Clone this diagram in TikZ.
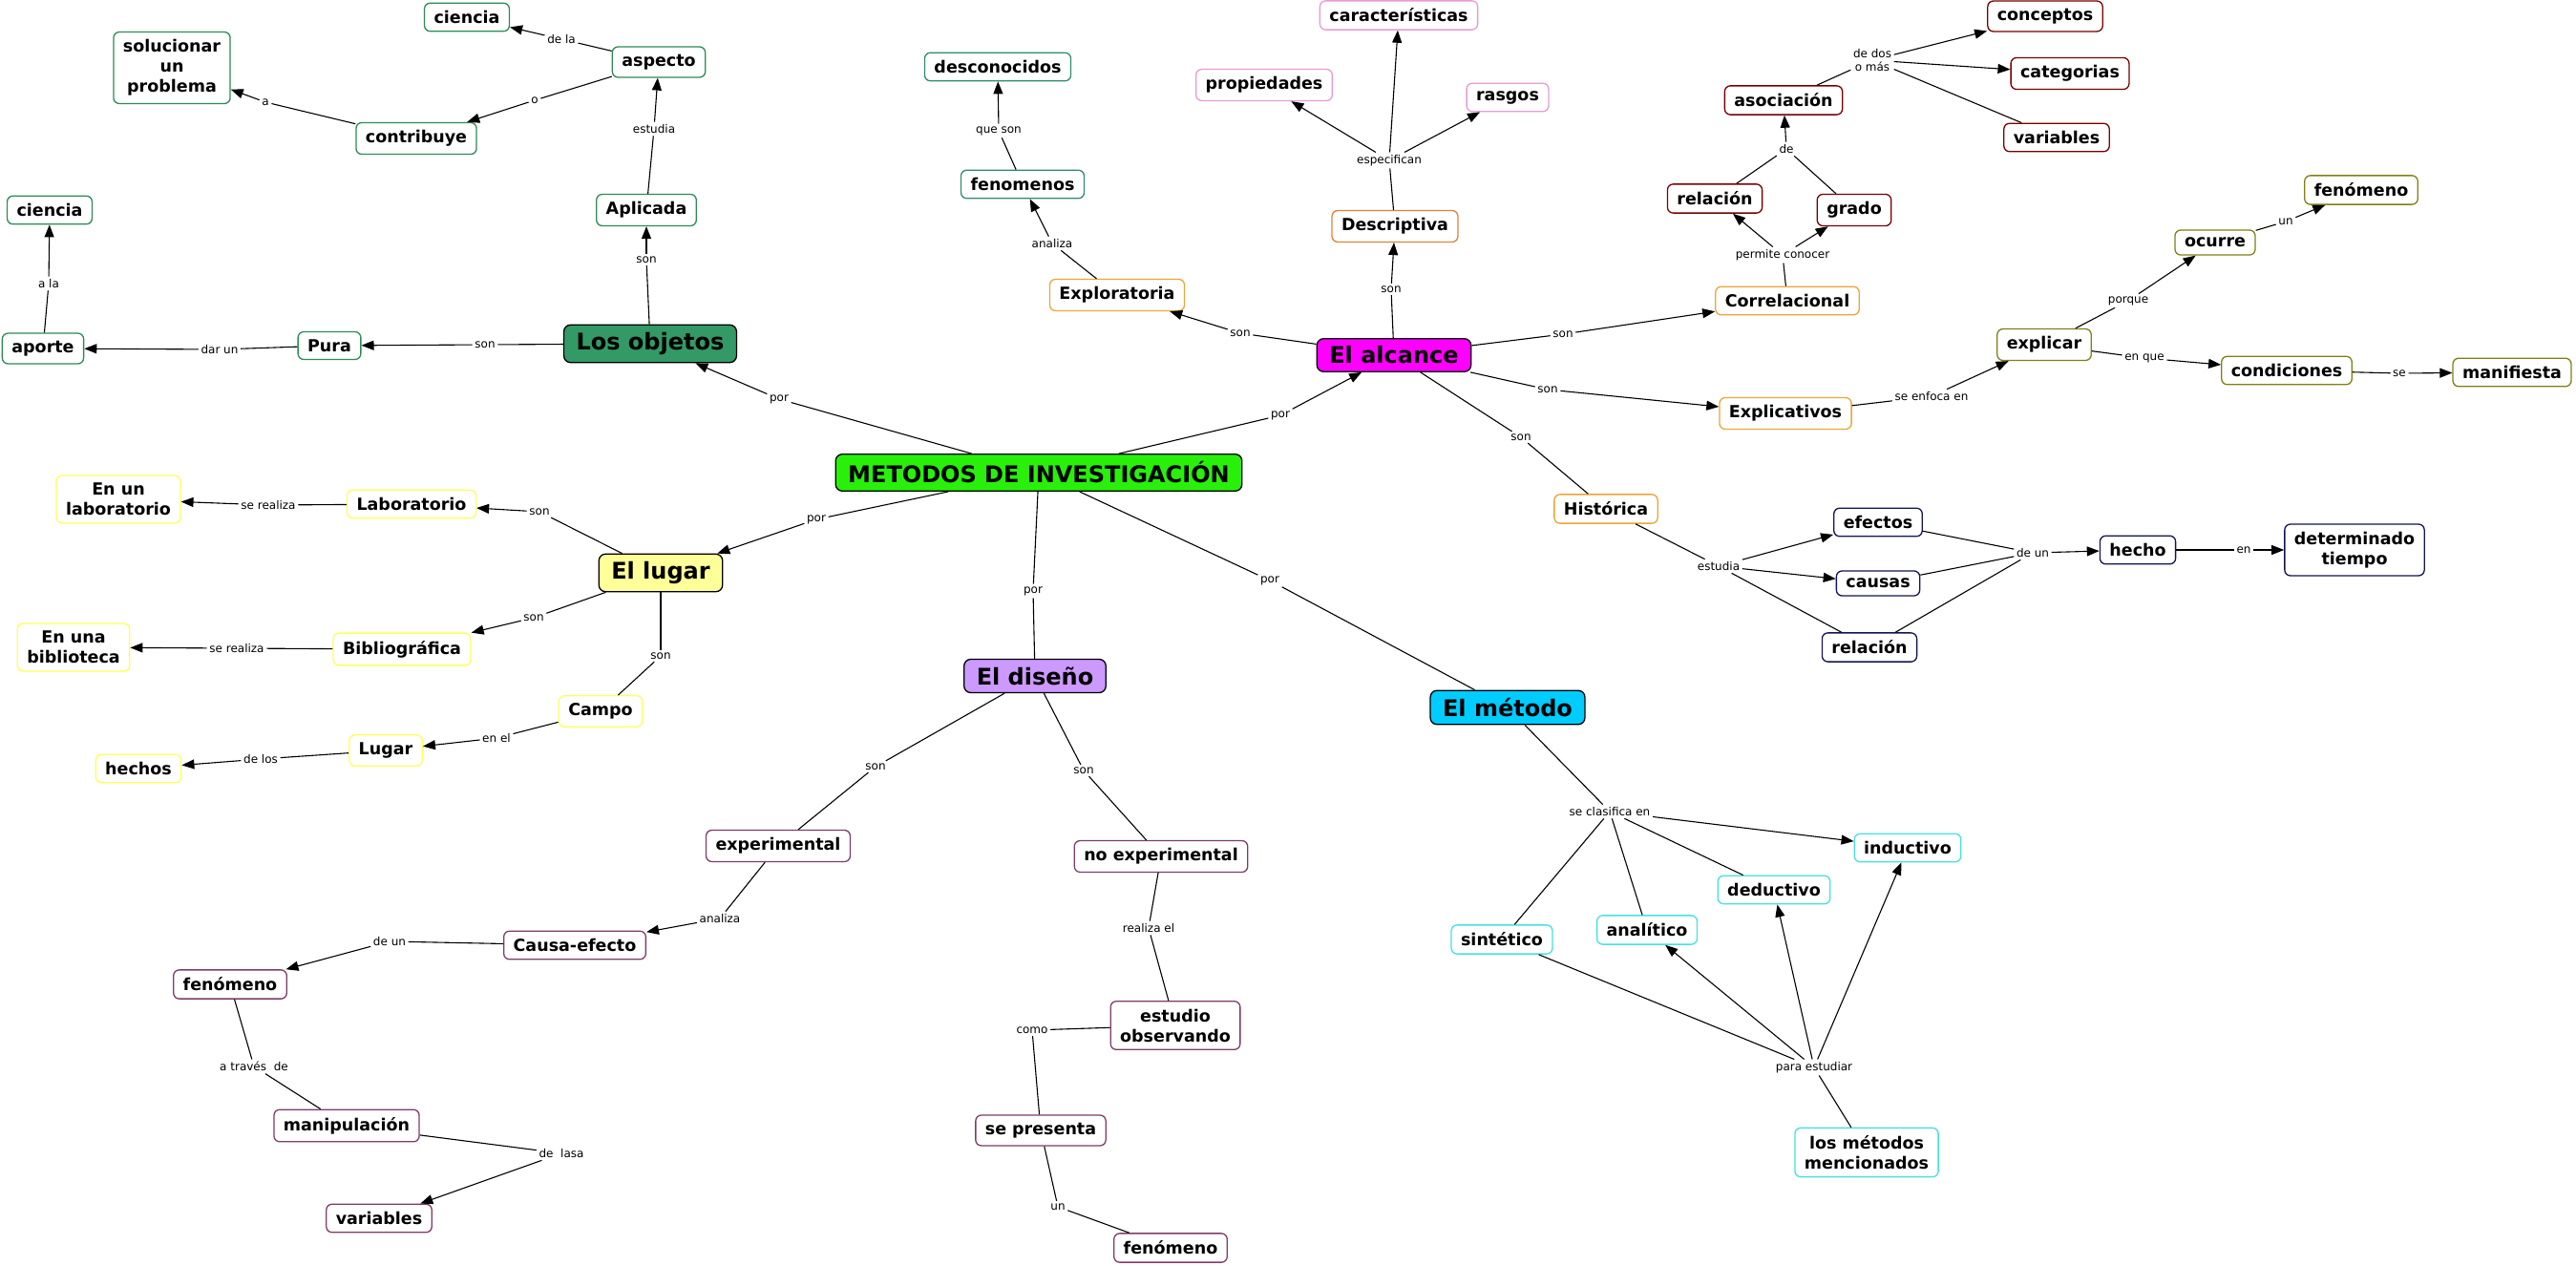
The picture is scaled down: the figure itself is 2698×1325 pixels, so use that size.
\documentclass[tikz,border=0pt]{standalone}
\usepackage{fontspec}
\setmainfont{DejaVu Sans}
\usetikzlibrary{arrows.meta}
\definecolor{cObj}{RGB}{46,139,87}
\definecolor{cOra}{RGB}{236,165,55}
\definecolor{cOra2}{RGB}{228,128,52}
\definecolor{cFen}{RGB}{46,139,110}
\definecolor{cPink}{RGB}{232,155,212}
\definecolor{cRed}{RGB}{120,0,0}
\definecolor{cOli}{RGB}{128,128,20}
\definecolor{cNavy}{RGB}{20,20,80}
\definecolor{cYel}{RGB}{255,255,90}
\definecolor{cPlum}{RGB}{125,60,105}
\definecolor{cCyan}{RGB}{70,225,225}
\definecolor{fObj}{RGB}{51,153,102}
\definecolor{fMet}{RGB}{40,240,10}
\definecolor{fAlc}{RGB}{255,0,255}
\definecolor{fLug}{RGB}{255,255,153}
\definecolor{fDis}{RGB}{204,153,255}
\definecolor{fMtd}{RGB}{0,204,255}
\newcommand{\mNF}{\fontsize{17.5}{21}\selectfont\bfseries}
\newcommand{\mBF}{\fontsize{24}{28}\selectfont\bfseries}
\newcommand{\mLF}{\fontsize{12}{13.5}\selectfont}
\tikzset{
  nd/.style={draw=#1, rounded corners=6pt, line width=1.3pt, fill=white, font=\mNF, align=center, inner xsep=10pt, inner ysep=8pt},
  bg/.style={draw=black, fill=#1, rounded corners=7pt, line width=1.3pt, font=\mBF, inner xsep=13pt, inner ysep=8pt},
  lb/.style={fill=white, font=\mLF, inner sep=2.5pt, align=center},
  ln/.style={line width=1.1pt},
  ar/.style={line width=1.1pt, -{Triangle[length=13pt,width=10pt]}}
}
\begin{document}
\begin{tikzpicture}[x=1pt,y=-1pt]
\fill[white] (0,0) rectangle (2698,1325);
\path[use as bounding box] (0,0) rectangle (2698,1325);

% ---------- main nodes
\node[bg=fMet] (met) at (1088,495) {METODOS DE INVESTIGACIÓN};
\node[bg=fObj] (obj) at (681,360) {Los objetos};
\node[bg=fAlc] (alc) at (1460,372) {El alcance};
\node[bg=fLug] (lug) at (692,600) {El lugar};
\node[bg=fDis] (dis) at (1084,708) {El diseño};
\node[bg=fMtd] (mtd) at (1579,741) {El método};

% ---------- objetos cluster
\node[nd=cObj] (cien1) at (489,18) {ciencia};
\node[nd=cObj] (sol) at (180,71) {solucionar\\un\\problema};
\node[nd=cObj] (asp) at (690,65) {aspecto};
\node[nd=cObj] (contr) at (436,145) {contribuye};
\node[nd=cObj] (cien2) at (52,220) {ciencia};
\node[nd=cObj] (apl) at (677,220) {Aplicada};
\node[nd=cObj] (aporte) at (45,365) {aporte};
\node[nd=cObj] (pura) at (345,362) {Pura};

% ---------- alcance cluster
\node[nd=cOra] (explo) at (1170,309) {Exploratoria};
\node[nd=cFen] (fen1) at (1071,193) {fenomenos};
\node[nd=cFen] (desc) at (1045,70) {desconocidos};
\node[nd=cPink] (car) at (1465,16) {características};
\node[nd=cPink] (prop) at (1324,89) {propiedades};
\node[nd=cPink] (ras) at (1579,102) {rasgos};
\node[nd=cOra2] (descr) at (1461,237) {Descriptiva};
\node[nd=cOra] (corr) at (1872,315) {Correlacional};
\node[nd=cRed] (rel1) at (1796,208) {relación};
\node[nd=cRed] (grado) at (1942,220) {grado};
\node[nd=cRed] (asoc) at (1868,105) {asociación};
\node[nd=cRed] (conc) at (2142,17) {conceptos};
\node[nd=cRed] (cat) at (2168,77) {categorias};
\node[nd=cRed] (var1) at (2154,144) {variables};
\node[nd=cOra] (explic) at (1870,433) {Explicativos};
\node[nd=cOli] (explicar) at (2141,361) {explicar};
\node[nd=cOli] (ocurre) at (2320,254) {ocurre};
\node[nd=cOli] (fen2) at (2473,199) {fenómeno};
\node[nd=cOli] (cond) at (2395,388) {condiciones};
\node[nd=cOli] (manif) at (2631,390) {manifiesta};
\node[nd=cOra] (hist) at (1682,533) {Histórica};
\node[nd=cNavy] (efe) at (1967,547) {efectos};
\node[nd=cNavy] (cau) at (1967,611) {causas};
\node[nd=cNavy] (rel2) at (1958,678) {relación};
\node[nd=cNavy] (hecho) at (2239,576) {hecho};
\node[nd=cNavy] (tiempo) at (2466,576) {determinado\\tiempo};

% ---------- lugar cluster
\node[nd=cYel] (lab) at (431,528) {Laboratorio};
\node[nd=cYel] (enlab) at (124,523) {En un\\laboratorio};
\node[nd=cYel] (bib) at (421,680) {Bibliográfica};
\node[nd=cYel] (enbib) at (77,678) {En una\\biblioteca};
\node[nd=cYel] (campo) at (629,745) {Campo};
\node[nd=cYel] (lugar2) at (404,786) {Lugar};
\node[nd=cYel] (hechos) at (145,805) {hechos};

% ---------- diseño cluster
\node[nd=cPlum] (exper) at (815,886) {experimental};
\node[nd=cPlum] (noexp) at (1216,897) {no experimental};
\node[nd=cPlum] (causa) at (602,990) {Causa-efecto};
\node[nd=cPlum] (fen3) at (241,1031) {fenómeno};
\node[nd=cPlum] (manip) at (363,1179) {manipulación};
\node[nd=cPlum] (var2) at (397,1276) {variables};
\node[nd=cPlum] (estudio) at (1231,1074) {estudio\\observando};
\node[nd=cPlum] (sepres) at (1090,1184) {se presenta};
\node[nd=cPlum] (fen4) at (1226,1307) {fenómeno};

% ---------- método cluster
\node[nd=cCyan] (ind) at (1998,888) {inductivo};
\node[nd=cCyan] (ded) at (1858,932) {deductivo};
\node[nd=cCyan] (ana) at (1725,974) {analítico};
\node[nd=cCyan] (sin) at (1573,984) {sintético};
\node[nd=cCyan] (losm) at (1955,1207) {los métodos\\mencionados};

% ---------- labels
\node[lb] (lp1) at (816,418) {por};
\node[lb] (lp2) at (1341,435) {por};
\node[lb] (lp3) at (855,544) {por};
\node[lb] (lp4) at (1082,619) {por};
\node[lb] (lp5) at (1330,608) {por};

\node[lb] (lso1) at (508,361) {son};
\node[lb] (ldar) at (230,366) {dar un};
\node[lb] (lala) at (51,297) {a la};
\node[lb] (lso2) at (677,272) {son};
\node[lb] (lest) at (685,135) {estudia};
\node[lb] (ldela) at (588,41) {de la};
\node[lb] (lo) at (560,105) {o};
\node[lb] (la) at (278,107) {a};

\node[lb] (lesp) at (1455,168) {especifican};
\node[lb] (lqs) at (1046,137) {que son};
\node[lb] (lan1) at (1102,255) {analiza};
\node[lb] (lso3) at (1457,303) {son};
\node[lb] (lso4) at (1299,349) {son};
\node[lb] (lso5) at (1637,350) {son};
\node[lb] (lso6) at (1621,408) {son};
\node[lb] (lso7) at (1593,458) {son};
\node[lb] (lperm) at (1867,267) {permite conocer};
\node[lb] (lde) at (1871,156) {de};
\node[lb] (ldos) at (1961,63) {de dos\\ o más};
\node[lb] (lenf) at (2023,415) {se enfoca en};
\node[lb] (lpq) at (2229,315) {porque};
\node[lb] (lun1) at (2394,232) {un};
\node[lb] (lenq) at (2246,375) {en que};
\node[lb] (lse) at (2513,391) {se};
\node[lb] (lest2) at (1800,593) {estudia};
\node[lb] (ldeun1) at (2129,579) {de un};
\node[lb] (len) at (2350,576) {en};

\node[lb] (lsl1) at (565,536) {son};
\node[lb] (lsr1) at (281,529) {se realiza};
\node[lb] (lsl2) at (559,647) {son};
\node[lb] (lsr2) at (248,679) {se realiza};
\node[lb] (lsl3) at (692,687) {son};
\node[lb] (lenel) at (520,773) {en el};
\node[lb] (ldelos) at (273,795) {de los};

\node[lb] (lsd1) at (917,803) {son};
\node[lb] (lsd2) at (1135,807) {son};
\node[lb] (lan2) at (754,962) {analiza};
\node[lb] (ldeun2) at (408,986) {de un};
\node[lb] (latr) at (266,1117) {a través~~de};
\node[lb] (ldelasa) at (588,1208) {de~~lasa};
\node[lb] (lreal) at (1203,972) {realiza el};
\node[lb] (lcomo) at (1081,1079) {como};
\node[lb] (lun2) at (1108,1264) {un};

\node[lb] (lclas) at (1686,850) {se clasifica en};
\node[lb] (lpara) at (1900,1118) {para estudiar};

% ---------- connectors: center
\draw[ln] (met) -- (lp1); \draw[ar] (lp1) -- (obj);
\draw[ln] (met) -- (lp2); \draw[ar] (lp2) -- (alc);
\draw[ln] (met) -- (lp3); \draw[ar] (lp3) -- (lug);
\draw[ln] (met) -- (lp4); \draw[ln] (lp4) -- (dis);
\draw[ln] (met) -- (lp5); \draw[ln] (lp5) -- (mtd);

% objetos
\draw[ln] (obj) -- (lso1); \draw[ar] (lso1) -- (pura);
\draw[ln] (pura) -- (ldar); \draw[ar] (ldar) -- (aporte);
\draw[ln] (aporte) -- (lala); \draw[ar] (lala) -- (cien2);
\draw[ln] (obj) -- (lso2); \draw[ar] (lso2) -- (apl);
\draw[ln] (apl) -- (lest); \draw[ar] (lest) -- (asp);
\draw[ln] (asp) -- (ldela); \draw[ar] (ldela) -- (cien1);
\draw[ln] (asp) -- (lo); \draw[ar] (lo) -- (contr);
\draw[ln] (contr) -- (la); \draw[ar] (la) -- (sol);

% alcance
\draw[ln] (alc) -- (lso4); \draw[ar] (lso4) -- (explo);
\draw[ln] (explo) -- (lan1); \draw[ar] (lan1) -- (fen1);
\draw[ln] (fen1) -- (lqs); \draw[ar] (lqs) -- (desc);
\draw[ln] (alc) -- (lso3); \draw[ar] (lso3) -- (descr);
\draw[ln] (descr) -- (lesp);
\draw[ar] (lesp) -- (car); \draw[ar] (lesp) -- (prop); \draw[ar] (lesp) -- (ras);
\draw[ln] (alc) -- (lso5); \draw[ar] (lso5) -- (corr);
\draw[ln] (corr) -- (lperm); \draw[ar] (lperm) -- (rel1); \draw[ar] (lperm) -- (grado);
\draw[ln] (rel1) -- (lde); \draw[ln] (grado) -- (lde); \draw[ar] (lde) -- (asoc);
\draw[ln] (asoc) -- (ldos);
\draw[ar] (ldos) -- (conc); \draw[ar] (ldos) -- (cat); \draw[ln] (ldos) -- (var1);
\draw[ln] (alc) -- (lso6); \draw[ar] (lso6) -- (explic);
\draw[ln] (explic) -- (lenf); \draw[ar] (lenf) -- (explicar);
\draw[ln] (explicar) -- (lpq); \draw[ar] (lpq) -- (ocurre);
\draw[ln] (ocurre) -- (lun1); \draw[ar] (lun1) -- (fen2);
\draw[ln] (explicar) -- (lenq); \draw[ar] (lenq) -- (cond);
\draw[ln] (cond) -- (lse); \draw[ar] (lse) -- (manif);
\draw[ln] (alc) -- (lso7); \draw[ln] (lso7) -- (hist);
\draw[ln] (hist) -- (lest2);
\draw[ar] (lest2) -- (efe); \draw[ar] (lest2) -- (cau); \draw[ln] (lest2) -- (rel2);
\draw[ln] (efe) -- (ldeun1); \draw[ln] (cau) -- (ldeun1); \draw[ln] (rel2) -- (ldeun1);
\draw[ar] (ldeun1) -- (hecho);
\draw[ln] (hecho) -- (len); \draw[ar] (len) -- (tiempo);

% lugar
\draw[ln] (lug) -- (lsl1); \draw[ar] (lsl1) -- (lab);
\draw[ln] (lab) -- (lsr1); \draw[ar] (lsr1) -- (enlab);
\draw[ln] (lug) -- (lsl2); \draw[ar] (lsl2) -- (bib);
\draw[ln] (bib) -- (lsr2); \draw[ar] (lsr2) -- (enbib);
\draw[ln] (lug) -- (lsl3); \draw[ln] (lsl3) -- (campo);
\draw[ln] (campo) -- (lenel); \draw[ar] (lenel) -- (lugar2);
\draw[ln] (lugar2) -- (ldelos); \draw[ar] (ldelos) -- (hechos);

% diseño
\draw[ln] (dis) -- (lsd1); \draw[ln] (lsd1) -- (exper);
\draw[ln] (dis) -- (lsd2); \draw[ln] (lsd2) -- (noexp);
\draw[ln] (exper) -- (lan2); \draw[ar] (lan2) -- (causa);
\draw[ln] (causa) -- (ldeun2); \draw[ar] (ldeun2) -- (fen3);
\draw[ln] (fen3) -- (latr); \draw[ln] (latr) -- (manip);
\draw[ln] (manip) -- (ldelasa); \draw[ar] (ldelasa) -- (var2);
\draw[ln] (noexp) -- (lreal); \draw[ln] (lreal) -- (estudio);
\draw[ln] (estudio) -- (lcomo); \draw[ln] (lcomo) -- (sepres);
\draw[ln] (sepres) -- (lun2); \draw[ln] (lun2) -- (fen4);

% método
\draw[ln] (mtd) -- (lclas);
\draw[ar] (lclas) -- (ind); \draw[ln] (lclas) -- (ded);
\draw[ln] (lclas) -- (ana); \draw[ln] (lclas) -- (sin);
\draw[ln] (losm) -- (lpara);
\draw[ar] (lpara) -- (ana); \draw[ar] (lpara) -- (ded); \draw[ar] (lpara) -- (ind);
\draw[ln] (sin) -- (lpara);
\end{tikzpicture}
\end{document}
